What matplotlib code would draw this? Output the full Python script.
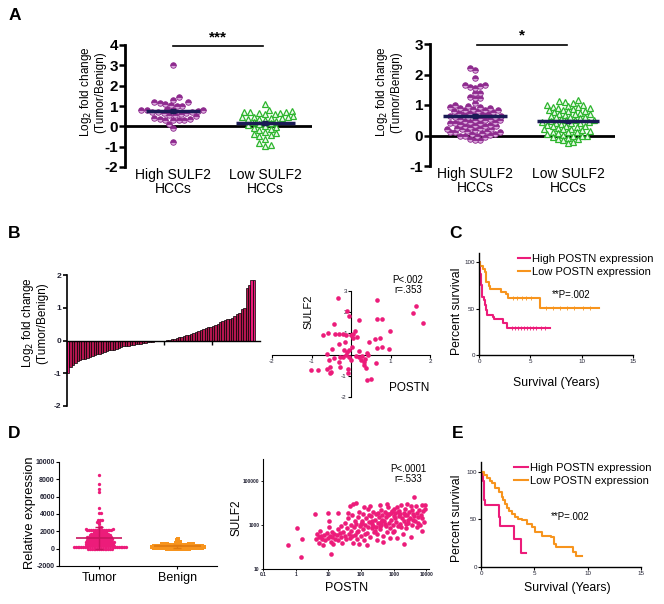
import numpy as np
import matplotlib.pyplot as plt

plt.rcParams['font.family'] = ['Liberation Sans', 'DejaVu Sans']
plt.rcParams['axes.unicode_minus'] = False

# ---------------- data ----------------
# A, left: log2 fold change
a1_high = [3.0, 1.45, 1.3, 1.22, 1.18, 1.15, 1.1, 1.05, 1.02, 1.0, 0.85, 0.82, 0.8,
           0.8, 0.78, 0.75, 0.72, 0.7, 0.7, 0.68, 0.65, 0.6, 0.58, 0.55, 0.5, 0.4,
           0.36, 0.35, 0.33, 0.32, 0.3, 0.3, 0.1, -0.1, -0.75]
a1_low = [1.1, 0.8, 0.75, 0.72, 0.7, 0.7, 0.68, 0.65, 0.62, 0.6, 0.5, 0.48, 0.45,
          0.45, 0.42, 0.4, 0.38, 0.35, 0.3, 0.25, 0.2, 0.15, 0.1, 0.05, 0.0, -0.05,
          -0.1, -0.15, -0.2, -0.3, -0.35, -0.4, -0.45, -0.5, -0.6, -0.8, -0.9, -0.95]
# A, right
a2_high = [2.2, 2.15, 1.9, 1.67, 1.65, 1.62, 1.58, 1.55, 1.4, 1.38, 1.25, 1.23, 1.22,
           1.05, 1.0, 0.98, 0.95, 0.92, 0.9, 0.9, 0.88, 0.85, 0.85, 0.82, 0.8, 0.8,
           0.78, 0.75, 0.75, 0.72, 0.7, 0.7, 0.68, 0.65, 0.65, 0.62, 0.6, 0.6, 0.58,
           0.55, 0.55, 0.52, 0.5, 0.5, 0.48, 0.45, 0.45, 0.42, 0.4, 0.4, 0.38, 0.35,
           0.35, 0.32, 0.3, 0.3, 0.28, 0.25, 0.25, 0.22, 0.2, 0.2, 0.18, 0.15, 0.15,
           0.12, 0.1, 0.1, 0.08, 0.05, 0.05, 0.02, 0.0, 0.0, -0.02, -0.05, -0.1,
           -0.15, -0.15]
a2_low = [1.15, 1.12, 1.1, 1.05, 1.0, 1.0, 0.98, 0.95, 0.92, 0.9, 0.9, 0.88, 0.85,
          0.82, 0.8, 0.8, 0.78, 0.75, 0.72, 0.7, 0.7, 0.68, 0.65, 0.62, 0.6, 0.6,
          0.58, 0.55, 0.52, 0.5, 0.5, 0.48, 0.45, 0.45, 0.42, 0.4, 0.4, 0.38, 0.35,
          0.32, 0.3, 0.3, 0.28, 0.25, 0.22, 0.2, 0.2, 0.18, 0.15, 0.12, 0.1, 0.1,
          0.08, 0.05, 0.02, 0.0, 0.0, -0.02, -0.05, -0.08, -0.1, -0.12, -0.15,
          -0.2, -0.25]
a_groups = ['High SULF2\nHCCs', 'Low SULF2\nHCCs']

# B, waterfall of POSTN log2 fold change (sorted)
b_fold = [-1.0, -0.8, -0.75, -0.68, -0.62, -0.6, -0.58, -0.55, -0.52, -0.5, -0.48,
          -0.45, -0.42, -0.4, -0.38, -0.35, -0.32, -0.3, -0.3, -0.28, -0.25, -0.22,
          -0.2, -0.18, -0.18, -0.17, -0.15, -0.15, -0.12, -0.1, -0.1, -0.08, -0.07,
          -0.06, -0.05, -0.04, -0.03, -0.03, -0.02, -0.01, 0.0, 0.01, 0.02, 0.04,
          0.06, 0.08, 0.1, 0.12, 0.14, 0.16, 0.18, 0.2, 0.22, 0.25, 0.3, 0.33, 0.35,
          0.37, 0.4, 0.42, 0.45, 0.48, 0.5, 0.55, 0.6, 0.63, 0.65, 0.67, 0.7, 0.75,
          0.8, 0.85, 0.95, 1.0, 1.6, 1.7, 1.85, 1.85]

# B, POSTN vs SULF2 scatter
b_postn = [-0.34, 0.67, 1.64, 1.56, 1.83, -0.10, 0.19, 0.66, 0.78, -0.06, -0.42,
           -0.72, -0.57, -0.41, -0.19, -0.13, 0.0, 0.06, 0.11, 0.14, 0.04, 0.99, 0.61,
           0.74, 0.46, 0.66, 0.78, 0.95, -0.31, -0.14, -0.47, -0.17, -0.11, -0.04,
           0.03, 0.19, -0.13, -0.19, -0.06, 0.0, 0.13, 0.21, 0.29, 0.40, 0.42, 0.36,
           0.32, 0.34, 0.38, 0.25, 0.63, -0.61, -0.56, -0.42, -0.31, -0.28, -0.53,
           -0.51, -0.53, -0.61, -0.84, -1.01, -0.29, -0.07, -0.07, 0.40, 0.51, -0.31]
b_sulf2 = [2.68, 2.59, 2.28, 1.96, 1.49, 2.04, 1.65, 1.70, 1.66, 1.80, 1.46, 0.91,
           1.04, 0.99, 0.99, 0.91, 0.91, 0.99, 1.11, 0.83, 0.80, 1.11, 0.75, 0.80,
           0.60, 0.31, 0.36, 0.28, 0.52, 0.60, 0.28, 0.20, 0.13, 0.20, 0.36, 0.16,
           -0.03, -0.11, -0.11, -0.24, -0.08, -0.11, -0.08, 0.08, -0.03, -0.22, -0.35,
           -0.50, -0.61, -0.24, -0.39, 0.05, -0.24, -0.16, -0.35, -0.11, -0.58, -0.82,
           -0.89, -0.66, -0.74, -0.71, -0.58, -0.66, -0.89, -1.21, -1.16, 0.96]

# C, Kaplan-Meier (steps) and censor marks
c_high_t = [0, 0.13, 0.23, 0.32, 0.45, 0.55, 0.71, 0.78, 1.36, 1.5, 2.3, 2.76, 6.9]
c_high_s = [100, 87.5, 75, 62.5, 59, 53.7, 48, 43, 41, 38.4, 34, 29.5, 29.5]
c_low_t = [0, 0.13, 0.4, 0.55, 0.71, 0.97, 1.1, 2.1, 2.66, 2.8, 5.9, 11.7]
c_low_s = [100, 96.4, 93, 89, 78.6, 74, 71.5, 68, 66, 62, 50.2, 50.2]
c_high_cens = [3.2, 3.5, 3.8, 4.1, 4.4, 4.7, 5.0, 5.3, 5.6, 6.0, 6.4]
c_low_cens_t = [3.3, 3.7, 4.2, 4.6, 5.1, 6.5, 7.2, 7.9, 8.6, 9.3, 10.1, 10.8]
c_low_cens_s = [62, 62, 62, 62, 62, 50.2, 50.2, 50.2, 50.2, 50.2, 50.2, 50.2]

# D, relative expression (value levels and how many dots sit on each)
tumor_levels = [8500, 7500, 6900, 6500, 4700, 4100, 3300, 3100, 2800, 2500, 2300,
                2150, 1950, 1750, 1550, 1350, 1150, 950, 750, 550, 350, 150, 0]
tumor_counts = [1, 1, 1, 1, 1, 2, 3, 2, 1, 2, 2, 14, 8, 10, 12, 14, 14, 14, 16,
                16, 16, 16, 14]
benign_levels = [1100, 950, 800, 650, 500, 400, 300, 200, 100, 0]
benign_counts = [1, 1, 1, 3, 8, 14, 18, 18, 18, 16]
d_groups = ['Tumor', 'Benign']

# D, POSTN vs SULF2 (log10 values)
d_postn_log = [-0.23, 0.03, 0.2, 0.15, 0.6, 1.0, 1.03, 1.08, 1.3, 1.65, 1.85, 1.75,
               0.65, 0.7, 0.72, 0.75, 0.8, 0.85, 0.88, 0.9, 0.95, 0.98, 1.02, 1.05,
               1.08, 1.1, 1.12, 1.15, 1.18, 1.2, 0.62, 0.78,
               1.25, 1.28, 1.3, 1.35, 1.38, 1.4, 1.42, 1.45, 1.5, 1.52, 1.55, 1.58,
               1.6, 1.62, 1.65, 1.68, 1.7, 1.72, 1.75, 1.78, 1.8, 1.6,
               1.82, 1.85, 1.87, 1.9, 1.92, 1.95, 1.97, 2.0, 2.02, 2.05, 2.07, 2.1,
               2.12, 2.15, 2.17, 2.2, 2.22, 2.25, 2.27, 2.3, 2.32, 2.35, 2.37, 2.4,
               1.93, 2.08, 2.18, 2.28,
               2.42, 2.45, 2.47, 2.5, 2.52, 2.55, 2.57, 2.6, 2.62, 2.65, 2.67, 2.7,
               2.72, 2.75, 2.77, 2.8, 2.82, 2.85, 2.87, 2.9, 2.92, 2.95, 2.97, 3.0,
               2.48, 2.58, 2.68, 2.78, 2.88,
               3.02, 3.05, 3.07, 3.1, 3.12, 3.15, 3.17, 3.2, 3.22, 3.25, 3.27, 3.3,
               3.32, 3.35, 3.37, 3.4, 3.42, 3.45, 3.47, 3.5, 3.52, 3.55, 3.57, 3.6,
               3.62, 3.1, 3.3,
               3.65, 3.68, 3.7, 3.72, 3.75, 3.78, 3.8, 3.82, 3.85, 3.87, 3.9, 3.92,
               3.95, 3.97, 3.85,
               2.03, 2.13, 2.23, 2.33, 2.43, 2.53, 2.63, 2.73, 2.83, 2.93, 3.03, 3.13,
               3.23, 3.33, 3.43, 3.53, 3.63, 3.73, 2.38, 2.58, 2.78, 2.98, 3.18, 3.38,
               3.58, 1.73, 1.88, 2.0, 2.6, 3.0]
d_sulf2_log = [2.08, 2.85, 2.36, 1.56, 3.52, 3.56, 3.19, 1.68, 3.56, 3.86, 3.98, 3.95,
               2.6, 2.45, 2.2, 2.75, 2.35, 2.1, 2.55, 2.3, 2.65, 2.4, 2.9, 2.5,
               2.25, 2.7, 2.45, 2.15, 2.6, 2.35, 2.35, 2.5,
               2.55, 2.8, 2.3, 2.65, 2.45, 2.95, 2.2, 2.7, 2.5, 3.1, 2.35, 2.85,
               3.3, 2.6, 2.4, 3.0, 2.75, 3.45, 2.2, 2.9, 3.2, 3.55,
               2.55, 3.05, 2.35, 3.35, 2.75, 3.6, 2.95, 2.5, 3.2, 2.8, 3.5, 2.3,
               3.0, 3.3, 2.65, 3.75, 2.9, 3.15, 2.45, 3.4, 2.85, 3.05, 3.6, 2.7,
               2.15, 3.8, 2.1, 3.85,
               3.25, 2.9, 3.5, 2.6, 3.1, 3.35, 2.8, 3.7, 3.0, 3.45, 2.5, 3.2,
               3.6, 2.95, 3.35, 2.7, 3.8, 3.1, 3.5, 2.85, 3.25, 3.65, 3.0, 3.4,
               2.3, 3.9, 2.25, 3.95, 2.4,
               2.75, 3.55, 3.15, 3.8, 2.95, 3.4, 3.65, 3.05, 3.9, 3.3, 2.6, 3.55,
               3.2, 3.75, 2.85, 3.45, 3.95, 3.1, 3.6, 3.3, 2.45, 3.7, 3.0, 3.5,
               4.26, 2.4, 2.15,
               3.2, 3.85, 2.9, 3.55, 3.35, 3.7, 3.0, 3.45, 3.9, 3.34, 3.65, 3.15,
               3.71, 3.9, 2.75,
               3.1, 2.6, 3.45, 3.2, 2.75, 3.55, 3.25, 3.05, 3.45, 3.55, 3.3, 3.6,
               2.9, 3.45, 3.25, 3.85, 3.4, 3.1, 2.95, 2.95, 3.5, 2.7, 3.5, 3.05,
               3.25, 2.5, 2.7, 3.05, 3.15, 3.75]

# E, Kaplan-Meier
e_high_t = [0, 0.19, 0.31, 0.4, 1.68, 1.78, 3.08, 3.75, 4.2]
e_high_s = [100, 90, 70, 65, 52.8, 43.4, 29.5, 14.6, 14.6]
e_low_t = [0, 0.25, 0.56, 0.8, 1.03, 1.34, 1.65, 1.96, 2.1, 2.27, 2.45, 2.6, 2.9,
           3.2, 3.5, 3.8, 4.3, 4.8, 5.1, 5.7, 6.6, 6.85, 7.0, 8.65, 8.9, 9.5]
e_low_s = [100, 96.5, 93, 90, 87.5, 83, 79, 73, 70, 66, 62, 59, 55.5, 52, 50.5,
           49.3, 45, 41.7, 36.5, 33, 31, 24.3, 20.8, 15.6, 12, 12]

PURPLE = '#8e2a8e'
PURPLE_LT = '#d9a8db'
GREEN = '#2db52d'
PINK = '#ec1c7a'
ORANGE = '#f7941d'
NAVY = '#1b1b55'
BAR = '#b3164f'
AXC = '#222233'

W, H = 664, 604
fig = plt.figure(figsize=(W / 100, H / 100), dpi=100)


def px_axes(x0, y0, x1, y1):
    return fig.add_axes([x0 / W, 1 - y1 / H, (x1 - x0) / W, (y1 - y0) / H])


def ftxt(x, y, s, **kw):
    kw.setdefault('ha', 'center')
    kw.setdefault('va', 'center')
    return fig.text(x / W, 1 - y / H, s, **kw)


def swarm(values, py, px, diam):
    # simple beeswarm: offsets (in data units) so dots don't overlap
    vals = np.asarray(values, float)
    offs = np.zeros(len(vals))
    pts = np.empty((0, 2))
    for n, i in enumerate(np.argsort(vals)):
        y = vals[i] * py
        k = 0
        while True:
            cands = [0.0] if k == 0 else ([k * diam * 0.35, -k * diam * 0.35] if n % 2
                                          else [-k * diam * 0.35, k * diam * 0.35])
            good = [c for c in cands
                    if len(pts) == 0 or np.all((pts[:, 0] - c) ** 2 + (pts[:, 1] - y) ** 2 >= diam ** 2)]
            if good:
                offs[i] = good[0] / px
                pts = np.vstack([pts, [good[0], y]])
                break
            k += 1
    return offs


def style_a(ax, yticks):
    for s in ['top', 'right', 'bottom']:
        ax.spines[s].set_visible(False)
    ax.spines['left'].set_linewidth(2)
    ax.axhline(0, color='black', lw=2, zorder=1)
    ax.set_yticks(yticks)
    ax.tick_params(axis='y', direction='out', length=4, width=1.8, labelsize=11, pad=1)
    for lb in ax.get_yticklabels():
        lb.set_fontweight('bold')
    ax.set_xticks([1, 2])
    ax.set_xticklabels(a_groups, fontsize=10, linespacing=1.0)
    ax.tick_params(axis='x', length=0, pad=1)


def dot_group(ax, vals, x0, py, px, marker, half, diam):
    off = swarm(vals, py, px, diam)
    if marker == 'o':
        ax.plot(x0 + off, vals, 'o', ms=4, mfc=PURPLE, mec=PURPLE, mew=0.6,
                fillstyle='top', markerfacecoloralt=PURPLE_LT, zorder=3, clip_on=False)
    else:
        ax.plot(x0 + off, vals, '^', ms=4, mfc='#eefaee', mec=GREEN, mew=0.9,
                zorder=3, clip_on=False)
    m = np.mean(vals)
    sem = np.std(vals, ddof=1) / np.sqrt(len(vals))
    ax.hlines(m, x0 - half, x0 + half, color=NAVY, lw=2.5, zorder=5)
    ax.errorbar(x0, m, yerr=sem, color=NAVY, capsize=2.5, lw=1.2, zorder=5)


# ---------------- A left ----------------
ax = px_axes(125, 45, 312, 167)
ax.set_xlim(0.478, 2.51)
ax.set_ylim(-2, 4)
dot_group(ax, a1_high, 1, 122 / 6, 92, 'o', 0.29, 5.4)
dot_group(ax, a1_low, 2, 122 / 6, 92, '^', 0.32, 5.4)
style_a(ax, range(-2, 5))
ax.plot([1, 1.98], [3.95, 3.95], color='black', lw=1.2, clip_on=False)
ax.text(1.49, 4.05, '***', ha='center', va='bottom', fontsize=11, fontweight='bold')
ftxt(92, 92, 'Log$_2$ fold change\n(Tumor/Benign)', rotation=90, fontsize=8.5,
     linespacing=1.0)

# ---------------- A right ----------------
ax = px_axes(430, 44, 615, 166)
ax.set_xlim(0.516, 2.505)
ax.set_ylim(-1, 3)
dot_group(ax, a2_high, 1, 122 / 4, 93, 'o', 0.34, 4.7)
dot_group(ax, a2_low, 2, 122 / 4, 93, '^', 0.33, 4.9)
style_a(ax, range(-1, 4))
ax.plot([1.02, 1.99], [2.97, 2.97], color='black', lw=1.2, clip_on=False)
ax.text(1.5, 3.05, '*', ha='center', va='bottom', fontsize=11, fontweight='bold')
ftxt(388, 92, 'Log$_2$ fold change\n(Tumor/Benign)', rotation=90, fontsize=8.5,
     linespacing=1.0)

# ---------------- B waterfall ----------------
ax = px_axes(67, 275, 260, 406)
n = len(b_fold)
cols = [BAR] * n
cols[0] = PINK
cols[-1] = PINK
cols[-2] = PINK
ax.bar(np.arange(n) + 0.5, b_fold, width=1.0, color=cols, edgecolor='black', lw=0.5)
ax.set_xlim(0, 80)
ax.set_ylim(-2, 2)
for s in ['top', 'right']:
    ax.spines[s].set_visible(False)
ax.spines['bottom'].set_position(('data', 0))
ax.spines['left'].set_linewidth(1.2)
ax.spines['bottom'].set_linewidth(1.0)
ax.set_xticks([40, 60])
ax.set_xticklabels([])
ax.tick_params(axis='x', length=3, width=1, direction='out')
ax.set_yticks([-2, -1, 0, 1, 2])
ax.tick_params(axis='y', length=3, width=1.2, labelsize=6, pad=1, labelcolor=AXC)
for lb in ax.get_yticklabels():
    lb.set_fontweight('bold')
ftxt(34, 323, 'Log$_2$ fold change\n(Tumor/Benign)', rotation=90, fontsize=8.5,
     linespacing=1.0)

# ---------------- B scatter ----------------
ax = px_axes(272, 291, 430, 397)
ax.scatter(b_postn, b_sulf2, s=11, color=PINK, lw=0, zorder=3)
ax.set_xlim(-2, 2)
ax.set_ylim(-2, 3)
for s in ['top', 'right']:
    ax.spines[s].set_visible(False)
ax.spines['left'].set_position(('data', 0))
ax.spines['bottom'].set_position(('data', 0))
ax.set_xticks([-2, -1, 1, 2])
ax.set_yticks([-2, -1, 1, 2, 3])
ax.tick_params(length=2, width=0.8, labelsize=4.5, pad=1, labelcolor=AXC)
ftxt(308, 312, 'SULF2', rotation=90, fontsize=8)
ftxt(409, 388, 'POSTN', fontsize=8.5)
ftxt(408, 285, 'P<.002\nr=.353', fontsize=7, linespacing=0.95)


def km_axes(x0, y0, x1, y1):
    ax = px_axes(x0, y0, x1, y1)
    ax.set_xlim(0, 15)
    ax.set_ylim(0, 110)
    for s in ['top', 'right']:
        ax.spines[s].set_visible(False)
    ax.spines['left'].set_linewidth(1.0)
    ax.spines['bottom'].set_linewidth(1.0)
    ax.set_xticks([0, 5, 10, 15])
    ax.set_yticks([0, 50, 100])
    ax.tick_params(length=2, width=0.8, labelsize=4.5, pad=1, labelcolor=AXC)
    return ax


# ---------------- C ----------------
ax = km_axes(479, 253, 633, 355)
ax.step(c_high_t, c_high_s, where='post', color=PINK, lw=1.5, label='High POSTN expression')
ax.step(c_low_t, c_low_s, where='post', color=ORANGE, lw=1.5, label='Low POSTN expression')
ax.plot(c_high_cens, [29.5] * len(c_high_cens), '|', color=PINK, ms=2.5, mew=0.6)
ax.plot(c_low_cens_t, c_low_cens_s, '|', color=ORANGE, ms=2.5, mew=0.6)
ax.legend(loc='upper left', bbox_to_anchor=(518 / W, 1 - 254 / H),
          bbox_transform=fig.transFigure, frameon=False, fontsize=8,
          handlelength=1.1, handletextpad=0.15, borderpad=0, borderaxespad=0,
          labelspacing=0.25)
ftxt(571, 295, '**P=.002', fontsize=7)
ftxt(457, 311, 'Percent survival', rotation=90, fontsize=8.8)
ftxt(556, 383, 'Survival (Years)', fontsize=8.8)

# ---------------- D left ----------------
ax = px_axes(59, 462, 217, 566)
ax.set_xlim(0.487, 2.51)
ax.set_ylim(-2000, 10000)
py = 104 / 12000
tumor = np.repeat(tumor_levels, tumor_counts)
benign = np.repeat(benign_levels, benign_counts)
t_off = swarm(tumor, py, 78, 1.75)
b_off = swarm(benign, py, 78, 1.4)
ax.plot(1 + t_off, tumor, 'o', ms=2.4, color=PINK, mew=0, zorder=3)
ax.plot(2 + b_off, benign, 's', ms=2.4, color=ORANGE, mew=0, zorder=3)
for x0, v, c in [(1, tumor, '#c8145f'), (2, benign, '#e07a10')]:
    ax.errorbar(x0, np.mean(v), yerr=np.std(v, ddof=1), color=c, capsize=3, lw=1,
                zorder=4)
    ax.hlines(np.mean(v), x0 - 0.3, x0 + 0.3, color=c, lw=1.2, zorder=4)
for s in ['top', 'right']:
    ax.spines[s].set_visible(False)
ax.set_yticks(range(-2000, 10001, 2000))
ax.set_xticks([1, 2])
ax.set_xticklabels(d_groups, fontsize=9)
ax.tick_params(axis='x', length=2, width=0.8, pad=2)
ax.tick_params(axis='y', length=2, width=0.8, labelsize=5, pad=1, labelcolor=AXC)
for lb in ax.get_yticklabels():
    lb.set_fontweight('bold')
ftxt(30, 513, 'Relative expression', rotation=90, fontsize=9.3)

# ---------------- D scatter ----------------
ax = px_axes(263, 459, 429, 569)
ax.scatter(10 ** np.array(d_postn_log), 10 ** np.array(d_sulf2_log), s=11,
           color=PINK, lw=0, zorder=3)
ax.set_xscale('log')
ax.set_yscale('log')
ax.set_xlim(0.1, 12000)
ax.set_ylim(10, 1e6)
for s in ['top', 'right']:
    ax.spines[s].set_visible(False)
ax.set_xticks([0.1, 1, 10, 100, 1000, 10000])
ax.set_xticklabels(['0.1', '1', '10', '100', '1000', '10000'])
ax.set_yticks([10, 1000, 100000])
ax.set_yticklabels(['10', '1000', '100000'])
ax.minorticks_off()
ax.tick_params(length=1.5, width=0.6, labelsize=3.5, pad=1, labelcolor=AXC)
for lb in ax.get_xticklabels() + ax.get_yticklabels():
    lb.set_fontweight('bold')
ftxt(236, 518, 'SULF2', rotation=90, fontsize=8.5)
ftxt(347, 588, 'POSTN', fontsize=9)
ftxt(408, 474, 'P<.0001\nr=.533', fontsize=7, linespacing=0.95)

# ---------------- E ----------------
ax = km_axes(481, 462, 641, 567)
ax.step(e_high_t, e_high_s, where='post', color=PINK, lw=1.5, label='High POSTN expression')
ax.step(e_low_t, e_low_s, where='post', color=ORANGE, lw=1.5, label='Low POSTN expression')
ax.legend(loc='upper left', bbox_to_anchor=(514 / W, 1 - 463 / H),
          bbox_transform=fig.transFigure, frameon=False, fontsize=8,
          handlelength=1.3, handletextpad=0.15, borderpad=0, borderaxespad=0,
          labelspacing=0.25)
ftxt(570, 517, '**P=.002', fontsize=7)
ftxt(457, 518, 'Percent survival', rotation=90, fontsize=8.8)
ftxt(567, 588, 'Survival (Years)', fontsize=8.8)

# panel letters
for x, y, s in [(15, 16, 'A'), (14, 233, 'B'), (456, 233, 'C'), (14, 433, 'D'), (458, 433, 'E')]:
    ftxt(x, y, s, fontsize=12.5, fontweight='bold')

fig.savefig('out.png', dpi=100)
